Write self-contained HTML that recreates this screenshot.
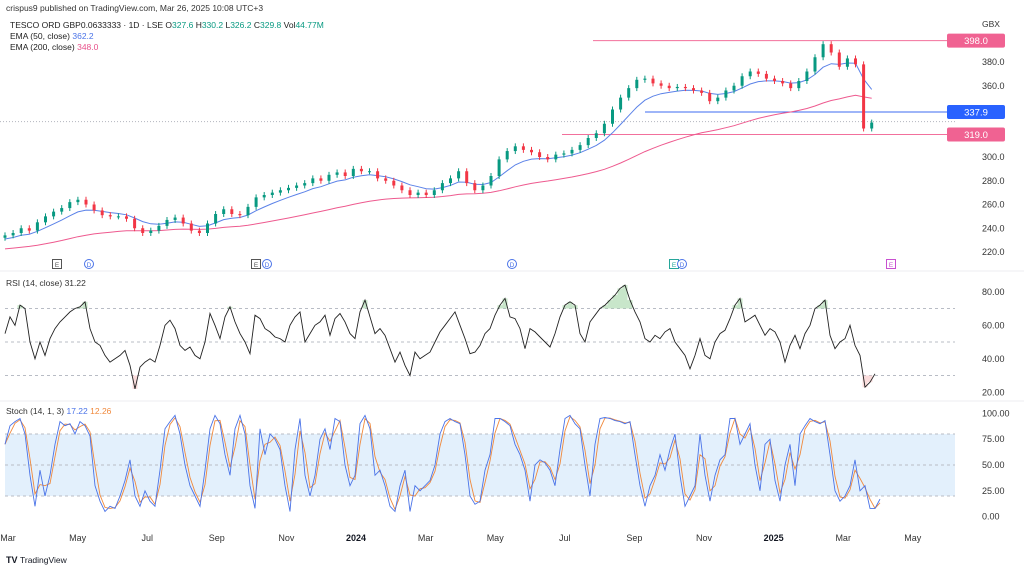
<!DOCTYPE html>
<html><head><meta charset="utf-8">
<style>
html,body{margin:0;padding:0;background:#fff;}
body{width:1024px;height:569px;overflow:hidden;position:relative;font-family:"Liberation Sans",sans-serif;}
svg text{font-family:"Liberation Sans",sans-serif;}
</style></head>
<body>
<svg id="c" width="1024" height="569" viewBox="0 0 1024 569" xmlns="http://www.w3.org/2000/svg">
  <text x="6" y="11" font-size="8.5" fill="#333">crispus9 published on TradingView.com, Mar 26, 2025 10:08 UTC+3</text>
  <g font-size="8.5">
    <text x="10" y="28" fill="#222">TESCO ORD GBP0.0633333 · 1D · LSE  O<tspan fill="#089981">327.6</tspan>  H<tspan fill="#089981">330.2</tspan>  L<tspan fill="#089981">326.2</tspan>  C<tspan fill="#089981">329.8</tspan>  Vol<tspan fill="#089981">44.77M</tspan></text>
    <text x="10" y="39" fill="#222">EMA (50, close)  <tspan fill="#4a73e8">362.2</tspan></text>
    <text x="10" y="50" fill="#222">EMA (200, close)  <tspan fill="#e8508a">348.0</tspan></text>
  </g>
  <text x="982" y="27" font-size="8.5" fill="#333">GBX</text>
  <line x1="0" y1="271" x2="1024" y2="271" stroke="#eceef2"/>
  <line x1="0" y1="401" x2="1024" y2="401" stroke="#eceef2"/>
  <g id="price"></g>
  <g id="rsi"></g>
  <g id="stoch"></g>
  <g id="xaxis"></g>
  <g>
    <text x="6" y="563" font-size="9" font-weight="bold" fill="#131722">TV</text>
    <text x="20" y="563" font-size="8.5" fill="#131722">TradingView</text>
  </g>
</svg>
<script>
// ---- data ----
const closes = [234,236,240,238,245,250,254,257,262,264,260,255,251,250,250,248,240,236,238,242,247,249,244,238,236,244,252,256,252,251,258,266,268,270,272,274,276,278,282,280,285,287,284,290,288,288,282,280,276,272,268,270,268,272,278,282,288,278,272,276,284,298,305,309,306,304,300,298,302,303,306,310,316,320,328,340,350,358,365,366,362,360,358,359,358,356,354,347,350,356,360,368,372,370,366,364,362,358,364,372,384,395,388,376,383,378,324,329];
const firstOpen = 232;
const ema50Seed = 230;
const ema200Seed = 222;
const rsiValues = [55,65,60,72,70,50,40,50,42,52,58,62,65,68,70,71,74,58,50,48,42,38,40,42,45,36,22,35,38,40,38,48,60,63,58,48,45,47,42,40,50,67,60,52,65,71,62,55,50,43,66,64,58,56,53,52,50,60,65,68,50,55,60,62,66,54,64,67,62,55,52,68,75,65,55,58,54,46,38,44,36,30,44,40,42,44,50,56,60,64,68,60,52,43,44,48,55,58,66,72,76,65,64,58,46,58,56,53,50,47,55,65,72,74,72,55,50,62,66,70,72,75,78,82,84,75,68,62,52,50,54,52,56,58,50,46,42,34,42,52,42,40,50,55,57,64,72,76,62,64,66,60,54,58,56,50,38,48,54,46,55,60,70,72,75,54,46,50,52,60,48,42,23,26,31];
const stochK = [70,88,92,95,80,40,10,45,20,40,70,92,88,90,80,92,88,78,30,15,5,10,8,20,35,55,20,10,25,15,10,45,85,92,98,80,50,30,20,10,45,85,98,90,60,40,85,98,80,30,8,85,60,80,75,65,30,5,65,95,40,20,40,75,85,65,95,92,50,30,40,90,98,85,40,45,30,10,5,30,45,5,30,25,30,35,50,80,92,95,92,90,60,20,12,15,45,60,95,95,92,88,70,60,45,15,50,55,52,45,30,65,95,98,90,85,50,20,70,95,96,95,93,92,90,92,60,30,10,30,40,60,45,65,80,40,10,20,30,80,40,15,40,55,60,95,95,70,80,90,50,25,70,75,35,15,50,70,30,80,88,95,92,90,93,60,25,15,20,30,55,25,30,8,8,17];
const priceTicks = [380,360,300,280,260,240,220];
const rsiTicks = [80,60,40,20];
const rsiBands = [70,50,30];
const stochTicks = [100,75,50,25,0];
const stochBands = [80,50,20];
const monthLabels = ["Mar","May","Jul","Sep","Nov","2024","Mar","May","Jul","Sep","Nov","2025","Mar","May"];
const monthOffsets = [0,2,4,6,8,10,12,14,16,18,20,22,24,26];
const levels = [398.0,337.9,319.0];
const lastPrice = 329.8;

// ---- scales ----
const NS='http://www.w3.org/2000/svg';
const yP = p => 157 - (p-300)*1.1875;
const yR = v => 342 - (v-50)*1.675;
const yS = v => 465 - (v-50)*1.033;
const xBar = i => 5 + i*8.1;
const xOsc = j => 5 + j*5;
const xMonth = m => 8 + m*34.8;
function mk(tag, attrs, parent){const e=document.createElementNS(NS,tag);for(const k in attrs)e.setAttribute(k,attrs[k]);parent.appendChild(e);return e;}
const gP=document.getElementById('price'), gR=document.getElementById('rsi'), gS=document.getElementById('stoch'), gX=document.getElementById('xaxis');

priceTicks.forEach(t=>{const e=mk('text',{x:982,y:yP(t)+3,'font-size':9,fill:'#333'},gP);e.textContent=t.toFixed(1);

});

{const e=mk('line',{x1:0,x2:955,y1:yP(lastPrice),y2:yP(lastPrice),stroke:'#b2b5be','stroke-dasharray':'1 2','stroke-width':1},gP);

}

const levelStarts=[593,645,562];
const levelColors=['#f2709c','#3d6bf0','#f2709c'];
levels.forEach((lv,k)=>{
  const l=mk('line',{x1:levelStarts[k],x2:955,y1:yP(lv),y2:yP(lv),stroke:levelColors[k],'stroke-width':1},gP);
  
  
  const r=mk('rect',{x:947,y:yP(lv)-7,width:58,height:14,rx:2,fill:k==1?'#2962ff':'#f06292'},gP);
  
  
  const t=mk('text',{x:976,y:yP(lv)+3.5,'font-size':9.5,fill:'#fff','text-anchor':'middle'},gP);t.textContent=lv.toFixed(1);
  
  
});

let e50=ema50Seed, e200=ema200Seed; const a50=0.24, a200=0.049; let p50='', p200='';
closes.forEach((c,i)=>{e50=e50+a50*(c-e50); e200=e200+a200*(c-e200);
  p50+=(i?'L':'M')+xBar(i).toFixed(1)+','+yP(e50).toFixed(1);
  p200+=(i?'L':'M')+xBar(i).toFixed(1)+','+yP(e200).toFixed(1);});
{const e=mk('path',{d:p200,fill:'none',stroke:'#ee5a8f','stroke-width':1},gP);

}
{const e=mk('path',{d:p50,fill:'none',stroke:'#5b82e8','stroke-width':1},gP);

}

closes.forEach((c,i)=>{
  const o=i?closes[i-1]:firstOpen; const up=c>=o; const col=up?'#089981':'#f23645';
  const hi=Math.max(o,c)+2.5, lo=Math.min(o,c)-2.5; const x=xBar(i);
  const w=mk('line',{x1:x,x2:x,y1:yP(hi),y2:yP(lo),stroke:col,'stroke-width':1},gP);
  
  
  const top=yP(Math.max(o,c)), h=Math.max(1,yP(Math.min(o,c))-top);
  const b=mk('rect',{x:x-1.5,y:top,width:3,height:h,fill:col},gP);
  
  
});

const evX=[57,89,256,267,512,674,682,891], evT=['E','D','E','D','D','E','D','E'];
const evC=['#555','#4a73e8','#555','#4a73e8','#4a73e8','#26a69a','#4a73e8','#c850d0'];
evX.forEach((x,k)=>{
  let s;
  if(evT[k]=='D'){s=mk('circle',{cx:x,cy:264,r:4.5,fill:'#fff',stroke:evC[k]},gP);}
  else{s=mk('rect',{x:x-4.5,y:259.5,width:9,height:9,fill:'#fff',stroke:evC[k]},gP);}
  
  
  const t=mk('text',{x:x,y:267,'font-size':6.5,fill:evC[k],'text-anchor':'middle'},gP);t.textContent=evT[k];
  
  
});

{const t=mk('text',{x:6,y:286,'font-size':8.5,fill:'#333'},gR);t.textContent='RSI (14, close)  31.22';

}
rsiBands.forEach(v=>{const l=mk('line',{x1:5,x2:955,y1:yR(v),y2:yR(v),stroke:'#b8bcc5','stroke-dasharray':'3 3'},gR);

});
rsiTicks.forEach(v=>{const t=mk('text',{x:982,y:yR(v)+3,'font-size':9,fill:'#333'},gR);t.textContent=v.toFixed(2);

});
rsiValues.forEach((v,j)=>{
  if(v>70){const e=mk('line',{x1:xOsc(j),x2:xOsc(j),y1:yR(70),y2:yR(v),stroke:'#a5d6a7','stroke-width':5,opacity:0.6},gR);
    
    }
  if(v<30){const e=mk('line',{x1:xOsc(j),x2:xOsc(j),y1:yR(30),y2:yR(v),stroke:'#f8c6c6','stroke-width':5,opacity:0.6},gR);
    
    }
});
{let d='';rsiValues.forEach((v,j)=>{d+=(j?'L':'M')+xOsc(j)+','+yR(v).toFixed(1);});
const e=mk('path',{d:d,fill:'none',stroke:'#222','stroke-width':0.9},gR);

}

{const r=mk('rect',{x:5,y:yS(80),width:950,height:yS(20)-yS(80),fill:'#e3f0fc'},gS);

}
{const t=mk('text',{x:6,y:414,'font-size':8.5,fill:'#333'},gS);t.innerHTML='Stoch (14, 1, 3)  <tspan fill="#4a73e8">17.22</tspan>  <tspan fill="#f0893c">12.26</tspan>';

}
stochBands.forEach(v=>{const l=mk('line',{x1:5,x2:955,y1:yS(v),y2:yS(v),stroke:'#b8bcc5','stroke-dasharray':'3 3'},gS);

});
stochTicks.forEach(v=>{const t=mk('text',{x:982,y:yS(v)+3,'font-size':9,fill:'#333'},gS);t.textContent=v.toFixed(2);

});
{let dK='',dD='';stochK.forEach((v,j)=>{
  const a=stochK[Math.max(0,j-1)]; const d=0.6*v+0.4*a;
  dK+=(j?'L':'M')+xOsc(j)+','+yS(v).toFixed(1);
  dD+=(j?'L':'M')+xOsc(j)+','+yS(d).toFixed(1);});
const dd=mk('path',{d:dD,fill:'none',stroke:'#f0893c','stroke-width':0.9},gS);


const k=mk('path',{d:dK,fill:'none',stroke:'#4a73e8','stroke-width':0.9},gS);

}

monthLabels.forEach((m,k)=>{const bold=(m=='2024'||m=='2025');
  const t=mk('text',{x:xMonth(monthOffsets[k]),y:541,'font-size':9,fill:bold?'#131722':'#333','font-weight':bold?'bold':'normal','text-anchor':'middle'},gX);t.textContent=m;
  
  });
</script>
</body></html>
